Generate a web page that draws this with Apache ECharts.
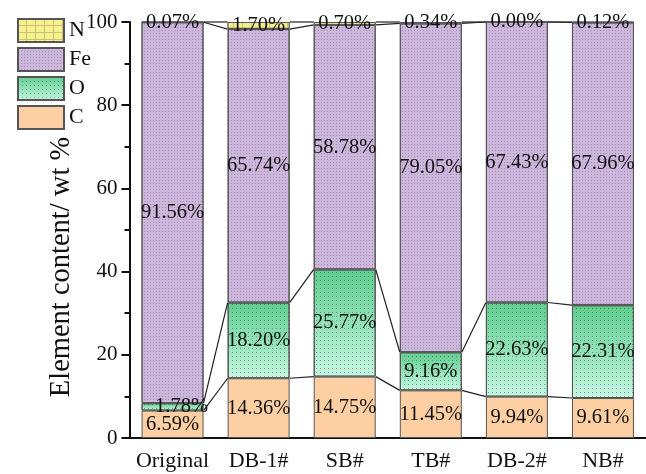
<!DOCTYPE html>
<html>
<head>
<meta charset="utf-8">
<script src="https://cdn.jsdelivr.net/npm/echarts@6/dist/echarts.min.js"></script>
<style>
  html, body { margin: 0; padding: 0; background: #fff; }
  #chart { width: 646px; height: 474px; }
</style>
</head>
<body>
<div id="chart"></div>
<script>
// Element content of each sample (wt %)
const categories = ['Original', 'DB-1#', 'SB#', 'TB#', 'DB-2#', 'NB#'];
const carbon   = [6.59, 14.36, 14.75, 11.45, 9.94, 9.61];
const oxygen   = [1.78, 18.20, 25.77, 9.16, 22.63, 22.31];
const iron     = [91.56, 65.74, 58.78, 79.05, 67.43, 67.96];
const nitrogen = [0.07, 1.70, 0.70, 0.34, 0.00, 0.12];
const yMin = 0, yMax = 100, yStep = 20;

const SERIF = 'Liberation Serif';
const BAR_RATIO = 0.72;

// a few labels are nudged away from the segment centre (series name -> index -> [dx, dy])
const labelNudge = { O: { 0: [9, 0] }, Fe: { 3: [0, -20] } };

// cumulative tops of each stacked layer, used by the connector lines
const layers = [carbon, oxygen, iron, nitrogen];
const tops = [];
let run = categories.map(() => 0);
layers.forEach(arr => {
  run = run.map((v, i) => v + arr[i]);
  tops.push(run.slice());
});
const connectorData = categories.slice(0, -1).map((_, i) => {
  const row = [i];
  tops.forEach(t => { row.push(t[i], t[i + 1]); });
  return row;
});

const pct = p => p.value.toFixed(2) + '%';
const labelStyle = {
  show: true, position: 'inside', formatter: pct,
  fontFamily: SERIF, fontSize: 20.5, color: '#111'
};

function barSeries(name, values, itemStyle) {
  const nudge = labelNudge[name] || {};
  return {
    name, type: 'bar', stack: 'total', barWidth: (BAR_RATIO * 100) + '%',
    data: values.map((v, i) => nudge[i] ? { value: v, label: { offset: nudge[i] } } : v),
    itemStyle: Object.assign({ borderColor: '#555', borderWidth: 1 }, itemStyle),
    label: labelStyle,
    emphasis: { disabled: true }
  };
}

const chart = echarts.init(document.getElementById('chart'), null, { renderer: 'canvas' });

const option = {
  animation: false,
  grid: { left: 129.5, right: -2, top: 22, bottom: 36 },
  legend: {
    data: ['N', 'Fe', 'O', 'C'],
    icon: 'rect',
    orient: 'vertical', left: 12, top: 13,
    itemWidth: 46, itemHeight: 23, itemGap: 4,
    textStyle: { fontFamily: SERIF, fontSize: 22, color: '#111' },
    selectedMode: false
  },
  graphic: [{
    type: 'text', x: 62, y: 267, rotation: Math.PI / 2,
    style: {
      text: 'Element content/ wt %', fontFamily: SERIF, fontSize: 28.5,
      fill: '#111', align: 'center', verticalAlign: 'middle'
    }
  }],
  xAxis: [{
    type: 'category', data: categories, position: 'bottom',
    axisLine: { lineStyle: { color: '#111', width: 2 } },
    axisTick: { alignWithLabel: true, length: 8, lineStyle: { color: '#111', width: 2 } },
    axisLabel: { interval: 0, fontFamily: SERIF, fontSize: 22, color: '#111', margin: 12 }
  }, {
    type: 'category', data: categories, position: 'bottom',
    axisLine: { show: false },
    axisTick: { interval: 0, length: 4, lineStyle: { color: '#111', width: 2 } },
    axisLabel: { show: false }
  }],
  yAxis: {
    type: 'value', min: yMin, max: yMax, interval: yStep,
    axisLine: { show: true, lineStyle: { color: '#111', width: 2 } },
    axisTick: { show: true, length: 8, lineStyle: { color: '#111', width: 2 } },
    minorTick: { show: true, splitNumber: 2, length: 5, lineStyle: { color: '#111', width: 2 } },
    splitLine: { show: false },
    axisLabel: { fontFamily: SERIF, fontSize: 21, color: '#111', margin: 12 }
  },
  series: [
    barSeries('C', carbon, { color: '#fdcfa2' }),
    barSeries('O', oxygen, {
      color: new echarts.graphic.LinearGradient(0, 0, 0, 1, [
        { offset: 0, color: '#5fcd8d' },
        { offset: 1, color: '#c6f7e3' }
      ]),
      decal: {
        symbol: 'rect', symbolSize: 1,
        dashArrayX: [1, 3], dashArrayY: [1, 3],
        color: 'rgba(20,70,40,0.45)'
      }
    }),
    barSeries('Fe', iron, {
      color: '#cdb7dd',
      decal: {
        symbol: 'rect', symbolSize: 1,
        dashArrayX: [1, 2], dashArrayY: [1, 2],
        color: 'rgba(80,60,100,0.35)'
      }
    }),
    barSeries('N', nitrogen, {
      color: '#f6f08e',
      decal: {
        symbol: 'rect', symbolSize: 1,
        dashArrayX: [8, 1], dashArrayY: [6, 1],
        color: '#f6f08e', backgroundColor: '#c9c272'
      }
    }),
    {
      type: 'custom', name: 'connectors', z: 5, silent: true,
      data: connectorData,
      encode: { x: 0, y: 1 },
      renderItem: function (params, api) {
        const i = api.value(0);
        const half = api.size([1, 0])[0] * BAR_RATIO / 2;
        const children = [];
        for (let k = 0; k < tops.length; k++) {
          const a = api.coord([i, api.value(1 + 2 * k)]);
          const b = api.coord([i + 1, api.value(2 + 2 * k)]);
          children.push({
            type: 'line',
            shape: { x1: a[0] + half, y1: a[1], x2: b[0] - half, y2: b[1] },
            style: { stroke: '#222', lineWidth: 1.2 }
          });
        }
        return { type: 'group', children };
      }
    }
  ]
};

chart.setOption(option);
</script>
</body>
</html>
